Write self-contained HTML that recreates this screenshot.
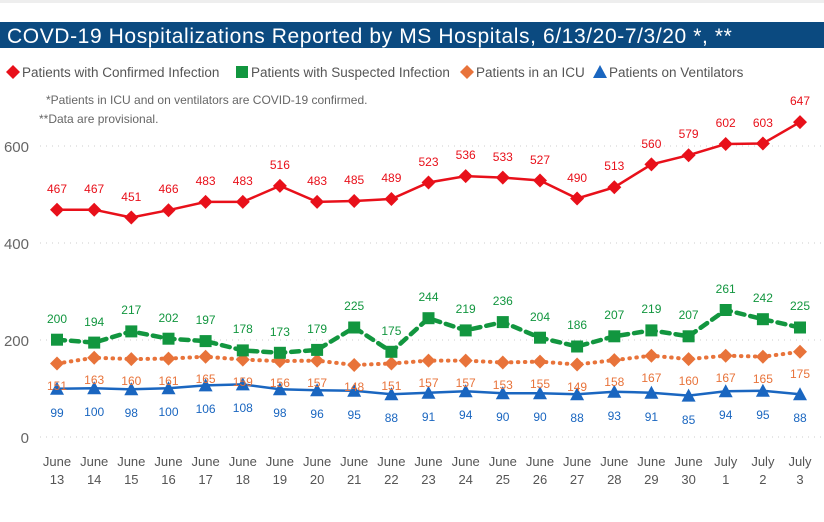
<!DOCTYPE html>
<html><head><meta charset="utf-8"><style>
body{margin:0;background:#fff;width:824px;height:517px;overflow:hidden;font-family:"Liberation Sans",sans-serif}
text{font-family:"Liberation Sans",sans-serif}
</style></head><body>
<svg width="824" height="517" viewBox="0 0 824 517" xmlns="http://www.w3.org/2000/svg">
<rect x="0" y="0" width="824" height="3" fill="#eee"/>
<rect x="0" y="22" width="824" height="26" fill="#0b4a80"/>
<text x="7" y="43" font-size="21" fill="#fff" letter-spacing="0.6">COVD-19 Hospitalizations Reported by MS Hospitals, 6/13/20-7/3/20 *, **</text>
<defs>
<path id="dm" d="M0,-7 L7,0 L0,7 L-7,0Z"/>
<rect id="sq" x="-6" y="-6" width="12" height="12"/>
<path id="tr" d="M0,-7 L7,6 L-7,6Z"/>
</defs>
<g font-size="13.5" fill="#555">
<use href="#dm" x="13" y="72" fill="#e8101a"/>
<text x="22" y="77">Patients with Confirmed Infection</text>
<use href="#sq" x="242" y="72" fill="#12963f"/>
<text x="251" y="77">Patients with Suspected Infection</text>
<use href="#dm" x="467" y="72" fill="#e8733a"/>
<text x="476" y="77">Patients in an ICU</text>
<use href="#tr" x="600" y="72" fill="#1a66c0"/>
<text x="609" y="77">Patients on Ventilators</text>
</g>
<g font-size="12" fill="#666">
<text x="46" y="104">*Patients in ICU and on ventilators are COVID-19 confirmed.</text>
<text x="39" y="123">**Data are provisional.</text>
</g>
<g stroke="#ccc" stroke-dasharray="1 5" stroke-width="1">
<line x1="40" y1="146" x2="824" y2="146"/><line x1="40" y1="243" x2="824" y2="243"/>
<line x1="40" y1="340" x2="824" y2="340"/><line x1="40" y1="437" x2="824" y2="437"/>
</g>
<g font-size="15" fill="#666" text-anchor="end">
<text x="29" y="152">600</text><text x="29" y="249">400</text><text x="29" y="346">200</text><text x="29" y="443">0</text>
</g>
<g font-size="13" fill="#555" text-anchor="middle">
<text x="57" y="466">June</text><text x="57" y="484">13</text>
<text x="94.2" y="466">June</text><text x="94.2" y="484">14</text>
<text x="131.3" y="466">June</text><text x="131.3" y="484">15</text>
<text x="168.5" y="466">June</text><text x="168.5" y="484">16</text>
<text x="205.6" y="466">June</text><text x="205.6" y="484">17</text>
<text x="242.8" y="466">June</text><text x="242.8" y="484">18</text>
<text x="279.9" y="466">June</text><text x="279.9" y="484">19</text>
<text x="317.1" y="466">June</text><text x="317.1" y="484">20</text>
<text x="354.2" y="466">June</text><text x="354.2" y="484">21</text>
<text x="391.4" y="466">June</text><text x="391.4" y="484">22</text>
<text x="428.5" y="466">June</text><text x="428.5" y="484">23</text>
<text x="465.7" y="466">June</text><text x="465.7" y="484">24</text>
<text x="502.8" y="466">June</text><text x="502.8" y="484">25</text>
<text x="540" y="466">June</text><text x="540" y="484">26</text>
<text x="577.1" y="466">June</text><text x="577.1" y="484">27</text>
<text x="614.3" y="466">June</text><text x="614.3" y="484">28</text>
<text x="651.4" y="466">June</text><text x="651.4" y="484">29</text>
<text x="688.6" y="466">June</text><text x="688.6" y="484">30</text>
<text x="725.7" y="466">July</text><text x="725.7" y="484">1</text>
<text x="762.9" y="466">July</text><text x="762.9" y="484">2</text>
<text x="800" y="466">July</text><text x="800" y="484">3</text>
</g>

<polyline fill="none" stroke="#1a66c0" stroke-width="2.5" points="57,388.8 94.2,388.3 131.3,389.3 168.5,388.3 205.6,385.4 242.8,384.4 279.9,389.3 317.1,390.3 354.2,390.8 391.4,394.2 428.5,392.7 465.7,391.3 502.8,393.2 540,393.2 577.1,394.2 614.3,391.7 651.4,392.7 688.6,395.6 725.7,391.3 762.9,390.8 800,394.2"/>
<g fill="#1a66c0">
<use href="#tr" x="57" y="388.8"/><use href="#tr" x="94.2" y="388.3"/><use href="#tr" x="131.3" y="389.3"/><use href="#tr" x="168.5" y="388.3"/><use href="#tr" x="205.6" y="385.4"/><use href="#tr" x="242.8" y="384.4"/><use href="#tr" x="279.9" y="389.3"/><use href="#tr" x="317.1" y="390.3"/><use href="#tr" x="354.2" y="390.8"/><use href="#tr" x="391.4" y="394.2"/><use href="#tr" x="428.5" y="392.7"/><use href="#tr" x="465.7" y="391.3"/><use href="#tr" x="502.8" y="393.2"/><use href="#tr" x="540" y="393.2"/><use href="#tr" x="577.1" y="394.2"/><use href="#tr" x="614.3" y="391.7"/><use href="#tr" x="651.4" y="392.7"/><use href="#tr" x="688.6" y="395.6"/><use href="#tr" x="725.7" y="391.3"/><use href="#tr" x="762.9" y="390.8"/><use href="#tr" x="800" y="394.2"/>
</g>
<g font-size="12" fill="#1a66c0" text-anchor="middle">
<text x="57" y="417">99</text><text x="94.2" y="416">100</text><text x="131.3" y="417">98</text><text x="168.5" y="416">100</text><text x="205.6" y="413">106</text><text x="242.8" y="412">108</text><text x="279.9" y="417">98</text><text x="317.1" y="418">96</text><text x="354.2" y="419">95</text><text x="391.4" y="422">88</text><text x="428.5" y="421">91</text><text x="465.7" y="419">94</text><text x="502.8" y="421">90</text><text x="540" y="421">90</text><text x="577.1" y="422">88</text><text x="614.3" y="420">93</text><text x="651.4" y="421">91</text><text x="688.6" y="424">85</text><text x="725.7" y="419">94</text><text x="762.9" y="419">95</text><text x="800" y="422">88</text>
</g>

<polyline fill="none" stroke="#e8733a" stroke-width="4" stroke-dasharray="0.5 6.5" stroke-linecap="round" points="57,363.5 94.2,357.7 131.3,359.1 168.5,358.6 205.6,356.7 242.8,359.6 279.9,361.1 317.1,360.6 354.2,365 391.4,363.5 428.5,360.6 465.7,360.6 502.8,362.5 540,361.6 577.1,364.5 614.3,360.1 651.4,355.7 688.6,359.1 725.7,355.7 762.9,356.7 800,351.8"/>
<g fill="#e8733a">
<use href="#dm" x="57" y="363.5"/><use href="#dm" x="94.2" y="357.7"/><use href="#dm" x="131.3" y="359.1"/><use href="#dm" x="168.5" y="358.6"/><use href="#dm" x="205.6" y="356.7"/><use href="#dm" x="242.8" y="359.6"/><use href="#dm" x="279.9" y="361.1"/><use href="#dm" x="317.1" y="360.6"/><use href="#dm" x="354.2" y="365"/><use href="#dm" x="391.4" y="363.5"/><use href="#dm" x="428.5" y="360.6"/><use href="#dm" x="465.7" y="360.6"/><use href="#dm" x="502.8" y="362.5"/><use href="#dm" x="540" y="361.6"/><use href="#dm" x="577.1" y="364.5"/><use href="#dm" x="614.3" y="360.1"/><use href="#dm" x="651.4" y="355.7"/><use href="#dm" x="688.6" y="359.1"/><use href="#dm" x="725.7" y="355.7"/><use href="#dm" x="762.9" y="356.7"/><use href="#dm" x="800" y="351.8"/>
</g>
<g font-size="12" fill="#e8733a" text-anchor="middle">
<text x="57" y="390">151</text><text x="94.2" y="384">163</text><text x="131.3" y="385">160</text><text x="168.5" y="385">161</text><text x="205.6" y="383">165</text><text x="242.8" y="386">159</text><text x="279.9" y="387">156</text><text x="317.1" y="387">157</text><text x="354.2" y="391">148</text><text x="391.4" y="390">151</text><text x="428.5" y="387">157</text><text x="465.7" y="387">157</text><text x="502.8" y="389">153</text><text x="540" y="388">155</text><text x="577.1" y="391">149</text><text x="614.3" y="386">158</text><text x="651.4" y="382">167</text><text x="688.6" y="385">160</text><text x="725.7" y="382">167</text><text x="762.9" y="383">165</text><text x="800" y="378">175</text>
</g>

<polyline fill="none" stroke="#12963f" stroke-width="4.5" stroke-dasharray="8 6" stroke-linecap="round" points="57,339.7 94.2,342.6 131.3,331.4 168.5,338.7 205.6,341.1 242.8,350.4 279.9,352.8 317.1,349.9 354.2,327.5 391.4,351.8 428.5,318.2 465.7,330.4 502.8,322.1 540,337.7 577.1,346.5 614.3,336.3 651.4,330.4 688.6,336.3 725.7,310 762.9,319.2 800,327.5"/>
<g fill="#12963f">
<use href="#sq" x="57" y="339.7"/><use href="#sq" x="94.2" y="342.6"/><use href="#sq" x="131.3" y="331.4"/><use href="#sq" x="168.5" y="338.7"/><use href="#sq" x="205.6" y="341.1"/><use href="#sq" x="242.8" y="350.4"/><use href="#sq" x="279.9" y="352.8"/><use href="#sq" x="317.1" y="349.9"/><use href="#sq" x="354.2" y="327.5"/><use href="#sq" x="391.4" y="351.8"/><use href="#sq" x="428.5" y="318.2"/><use href="#sq" x="465.7" y="330.4"/><use href="#sq" x="502.8" y="322.1"/><use href="#sq" x="540" y="337.7"/><use href="#sq" x="577.1" y="346.5"/><use href="#sq" x="614.3" y="336.3"/><use href="#sq" x="651.4" y="330.4"/><use href="#sq" x="688.6" y="336.3"/><use href="#sq" x="725.7" y="310"/><use href="#sq" x="762.9" y="319.2"/><use href="#sq" x="800" y="327.5"/>
</g>
<g font-size="12" fill="#12963f" text-anchor="middle">
<text x="57" y="323">200</text><text x="94.2" y="326">194</text><text x="131.3" y="314">217</text><text x="168.5" y="322">202</text><text x="205.6" y="324">197</text><text x="242.8" y="333">178</text><text x="279.9" y="336">173</text><text x="317.1" y="333">179</text><text x="354.2" y="310">225</text><text x="391.4" y="335">175</text><text x="428.5" y="301">244</text><text x="465.7" y="313">219</text><text x="502.8" y="305">236</text><text x="540" y="321">204</text><text x="577.1" y="329">186</text><text x="614.3" y="319">207</text><text x="651.4" y="313">219</text><text x="688.6" y="319">207</text><text x="725.7" y="293">261</text><text x="762.9" y="302">242</text><text x="800" y="310">225</text>
</g>

<polyline fill="none" stroke="#e8101a" stroke-width="2.5" points="57,209.7 94.2,209.7 131.3,217.5 168.5,210.2 205.6,201.9 242.8,201.9 279.9,185.9 317.1,201.9 354.2,201 391.4,199 428.5,182.5 465.7,176.1 502.8,177.6 540,180.5 577.1,198.5 614.3,187.3 651.4,164.4 688.6,155.2 725.7,144 762.9,143.5 800,122.1"/>
<g fill="#e8101a">
<use href="#dm" x="57" y="209.7"/><use href="#dm" x="94.2" y="209.7"/><use href="#dm" x="131.3" y="217.5"/><use href="#dm" x="168.5" y="210.2"/><use href="#dm" x="205.6" y="201.9"/><use href="#dm" x="242.8" y="201.9"/><use href="#dm" x="279.9" y="185.9"/><use href="#dm" x="317.1" y="201.9"/><use href="#dm" x="354.2" y="201"/><use href="#dm" x="391.4" y="199"/><use href="#dm" x="428.5" y="182.5"/><use href="#dm" x="465.7" y="176.1"/><use href="#dm" x="502.8" y="177.6"/><use href="#dm" x="540" y="180.5"/><use href="#dm" x="577.1" y="198.5"/><use href="#dm" x="614.3" y="187.3"/><use href="#dm" x="651.4" y="164.4"/><use href="#dm" x="688.6" y="155.2"/><use href="#dm" x="725.7" y="144"/><use href="#dm" x="762.9" y="143.5"/><use href="#dm" x="800" y="122.1"/>
</g>
<g font-size="12" fill="#e8101a" text-anchor="middle">
<text x="57" y="193">467</text><text x="94.2" y="193">467</text><text x="131.3" y="201">451</text><text x="168.5" y="193">466</text><text x="205.6" y="185">483</text><text x="242.8" y="185">483</text><text x="279.9" y="169">516</text><text x="317.1" y="185">483</text><text x="354.2" y="184">485</text><text x="391.4" y="182">489</text><text x="428.5" y="166">523</text><text x="465.7" y="159">536</text><text x="502.8" y="161">533</text><text x="540" y="164">527</text><text x="577.1" y="182">490</text><text x="614.3" y="170">513</text><text x="651.4" y="148">560</text><text x="688.6" y="138">579</text><text x="725.7" y="127">602</text><text x="762.9" y="127">603</text><text x="800" y="105">647</text>
</g>
</svg>
</body></html>
